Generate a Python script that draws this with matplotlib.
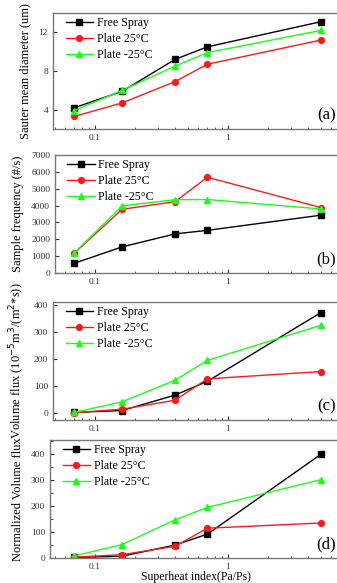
import matplotlib.pyplot as plt
from matplotlib.ticker import LogLocator, NullFormatter, FixedLocator, MultipleLocator

plt.rcParams['font.family'] = ['Liberation Serif', 'DejaVu Serif']

superheat = [0.07, 0.16, 0.4, 0.7, 5.0]
series_names = ['Free Spray', 'Plate 25\u00b0C', 'Plate -25\u00b0C']

sauter_free = [4.2, 5.9, 9.2, 10.5, 13.1]
sauter_p25 = [3.3, 4.7, 6.9, 8.7, 11.2]
sauter_m25 = [3.9, 6.0, 8.5, 9.9, 12.2]

freq_free = [580, 1550, 2320, 2530, 3430]
freq_p25 = [1180, 3780, 4230, 5680, 3880]
freq_m25 = [1200, 3980, 4350, 4360, 3800]

flux_free = [3, 10, 67, 118, 372]
flux_p25 = [2, 15, 48, 127, 154]
flux_m25 = [3, 42, 122, 195, 325]

nflux_free = [2, 7, 50, 92, 400]
nflux_p25 = [3, 13, 45, 115, 135]
nflux_m25 = [8, 52, 147, 195, 302]

panels = [
    ('Sauter mean diameter (um)', [sauter_free, sauter_p25, sauter_m25], (2, 14), [4, 8, 12], '(a)'),
    ('Sample frequency (#/s)', [freq_free, freq_p25, freq_m25], (0, 7000), list(range(0, 7001, 1000)), '(b)'),
    ('Volume flux (10$^{-5}$m$^3$/(m$^2$*s))', [flux_free, flux_p25, flux_m25], (-25, 411), [0, 100, 200, 300, 400], '(c)'),
    ('Normalized Volume flux', [nflux_free, nflux_p25, nflux_m25], (0, 455), [0, 100, 200, 300, 400], '(d)'),
]

# pixel boxes (left, top, bottom) in the 337x583 picture
boxes = [(53, 13, 129), (55, 155, 273), (53, 302, 420), (50, 440, 558)]
colors = ['black', '#ff1a1a', '#1aff1a']
markers = ['s', 'o', '^']

W, H = 337, 583
fig = plt.figure(figsize=(W / 100, H / 100), dpi=100)

for (ylabel, data, ylim, yticks, tag), (left, top, bottom) in zip(panels, boxes):
    right = 342
    ax = fig.add_axes([left / W, 1 - bottom / H, (right - left) / W, (bottom - top) / H])
    for vals, name, c, m in zip(data, series_names, colors, markers):
        ax.plot(superheat, vals, color=c, marker=m, markersize=4.2, linewidth=1,
                markeredgecolor=c, label=name)
    ax.set_xscale('log')
    # 0.1 at x=95, decade = 133 px
    x_lo = 10 ** (-1 - (95 - left) / 133)
    x_hi = 10 ** (-1 + (right - 95) / 133)
    ax.set_xlim(x_lo, x_hi)
    ax.set_ylim(*ylim)
    ax.yaxis.set_major_locator(FixedLocator(yticks))
    ax.xaxis.set_major_locator(FixedLocator([0.1, 1]))
    ax.xaxis.set_major_formatter(plt.FuncFormatter(lambda v, p: '0.1' if v < 0.5 else '1'))
    ax.xaxis.set_minor_locator(LogLocator(base=10, subs=range(2, 10)))
    ax.xaxis.set_minor_formatter(NullFormatter())
    ax.tick_params(which='both', direction='in', labelsize=6.8, colors='#333333')
    ax.tick_params(which='major', length=3)
    ax.tick_params(which='minor', length=1.8)
    if tag == '(d)':
        ax.yaxis.set_minor_locator(MultipleLocator(50))
    for s in ax.spines.values():
        s.set_color('#777777')
        s.set_linewidth(1)
    ax.set_ylabel(ylabel, fontsize=9, labelpad=5)
    ax.legend(loc='upper left', frameon=False, fontsize=8.6, handlelength=2.3,
              handletextpad=0.3, labelspacing=0.32, borderpad=0.2, borderaxespad=0.0,
              bbox_to_anchor=(0.035, 0.985))
    fig.text(336 / W, 1 - (bottom - 6) / H, tag, fontsize=12, ha='right', va='bottom')
    if tag == '(d)':
        ax.set_xlabel('Superheat index(Pa/Ps)', fontsize=8.5, labelpad=0)

fig.savefig('out.png', dpi=100)
